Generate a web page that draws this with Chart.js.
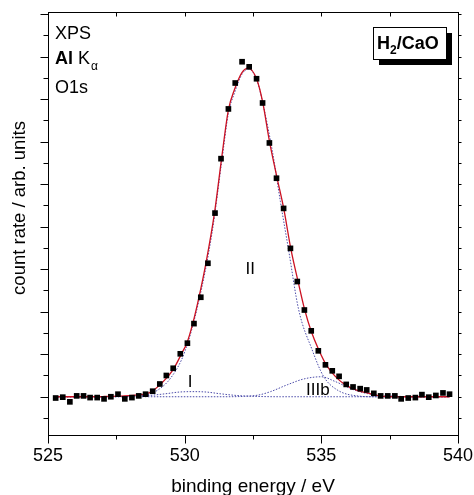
<!DOCTYPE html>
<html>
<head>
<meta charset="utf-8">
<script src="https://cdn.jsdelivr.net/npm/chart.js@4.4.1/dist/chart.umd.min.js"></script>
<style>
  html, body { margin: 0; padding: 0; background: #fff; }
</style>
</head>
<body>
<canvas id="xps" width="474" height="495"></canvas>
<script>
// measured spectrum (O1s, Al K-alpha)
const energy = [525.28, 525.54, 525.80, 526.05, 526.30, 526.54, 526.80, 527.05, 527.30, 527.56,
  527.81, 528.07, 528.32, 528.57, 528.83, 529.09, 529.33, 529.58, 529.84, 530.10,
  530.34, 530.59, 530.85, 531.11, 531.33, 531.60, 531.85, 532.10, 532.36, 532.63,
  532.85, 533.10, 533.36, 533.62, 533.87, 534.12, 534.38, 534.63, 534.89, 535.15,
  535.40, 535.65, 535.91, 536.16, 536.42, 536.66, 536.92, 537.17, 537.43, 537.69,
  537.92, 538.18, 538.44, 538.68, 538.93, 539.19, 539.45, 539.69];
const counts = [-0.03, -0.01, -0.12, 0.02, 0.02, -0.02, -0.02, -0.05, 0.00, 0.06,
  -0.05, -0.02, 0.02, 0.06, 0.13, 0.30, 0.50, 0.67, 1.01, 1.26,
  1.72, 2.34, 3.14, 4.32, 5.60, 6.77, 7.38, 7.88, 7.76, 7.48,
  6.91, 5.97, 5.14, 4.43, 3.49, 2.71, 2.04, 1.55, 1.08, 0.75,
  0.61, 0.48, 0.29, 0.23, 0.19, 0.16, 0.08, 0.02, 0.02, 0.02,
  -0.05, -0.03, -0.02, 0.05, -0.01, 0.03, 0.09, 0.06];

// total fit (red)
const fitEnergy = [525.25, 526.0, 527.0, 527.8, 528.3, 528.7, 529.16, 529.58, 529.9, 530.08,
  530.3, 530.53, 530.78, 531.09, 531.36, 531.6, 531.82, 532.09, 532.33, 532.64,
  532.86, 533.09, 533.38, 533.62, 533.89, 534.15, 534.39, 534.63, 534.9, 535.18,
  535.51, 535.88, 536.31, 536.68, 537.28, 538.0, 539.0, 539.7];
const fitTotal = [0, 0, 0.005, 0.02, 0.045, 0.09, 0.32, 0.64, 1.03, 1.26,
  1.73, 2.36, 3.15, 4.32, 5.65, 6.75, 7.22, 7.62, 7.73, 7.46,
  6.91, 6.05, 5.15, 4.44, 3.46, 2.71, 2.05, 1.54, 1.11, 0.75,
  0.48, 0.28, 0.15, 0.09, 0.01, 0, 0, 0];

// fit components (blue dotted)
const peakIEnergy = [525.25, 527.0, 528.0, 528.7, 529.3, 529.8, 530.3, 530.8, 531.3, 531.9, 532.5, 533.5, 539.7];
const peakI = [0, 0, 0.01, 0.03, 0.07, 0.11, 0.12, 0.11, 0.07, 0.03, 0.01, 0, 0];

const peakIIEnergy = [525.25, 527.0, 528.0, 528.5, 529.0, 529.5, 530.0, 530.5, 531.0, 531.36,
  531.6, 531.82, 532.09, 532.33, 532.64, 532.86, 533.2, 533.5, 533.8, 534.17,
  534.66, 535.08, 535.58, 536.3, 537.0, 538.0, 539.7];
const peakII = [0, 0, 0.01, 0.03, 0.15, 0.45, 1.05, 2.2, 3.85, 5.55,
  6.67, 7.14, 7.58, 7.71, 7.45, 6.9, 5.81, 4.6, 3.46, 2.05,
  1.11, 0.48, 0.16, 0.02, 0, 0, 0];

const peakIIIbEnergy = [525.25, 531.5, 532.2, 532.7, 533.14, 533.75, 534.37, 535.0, 535.5, 536.2, 536.8, 537.5, 538.5, 539.7];
const peakIIIb = [0, 0, 0.01, 0.04, 0.12, 0.28, 0.42, 0.47, 0.36, 0.16, 0.06, 0.02, 0, 0];

const xTickLabels = [525, 530, 535, 540];

const FONT = '"Liberation Sans", Arial, sans-serif';
const pts = (xs, ys) => xs.map((x, i) => ({ x: x, y: ys[i] }));

const component = (xs, ys) => ({
  data: pts(xs, ys),
  showLine: true,
  borderColor: '#4a4aa8',
  borderWidth: 1,
  borderDash: [1.5, 1.5],
  pointRadius: 0,
  cubicInterpolationMode: 'monotone',
  fill: false
});

// frame, mirrored tick marks and the text inside the plot
const decorations = {
  id: 'decorations',
  afterDraw(chart) {
    const { ctx, chartArea: a, scales: { x, y } } = chart;
    const L = Math.round(a.left) + 0.5, R = Math.round(a.right) + 0.5;
    const T = Math.round(a.top) + 0.5, B = Math.round(a.bottom) + 0.5;
    ctx.save();
    ctx.strokeStyle = '#000';
    ctx.lineWidth = 1;
    ctx.strokeRect(L, T, R - L, B - T);

    ctx.beginPath();
    for (let v = 525; v <= 540; v += 2.5) {
      const px = Math.round(x.getPixelForValue(v)) + 0.5;
      const major = v % 5 === 0;
      ctx.moveTo(px, B); ctx.lineTo(px, B + (major ? 8 : 4));
      ctx.moveTo(px, T); ctx.lineTo(px, T + 4);
    }
    for (let v = -0.5; v <= 9; v += 0.5) {
      const py = Math.round(y.getPixelForValue(v)) + 0.5;
      const major = Number.isInteger(v);
      ctx.moveTo(L, py); ctx.lineTo(L - (major ? 8 : 5), py);
      ctx.moveTo(R, py); ctx.lineTo(R + 3, py);
    }
    ctx.stroke();

    // y axis title
    ctx.fillStyle = '#000';
    ctx.save();
    ctx.translate(20, 208);
    ctx.rotate(-Math.PI / 2);
    ctx.font = '18.5px ' + FONT;
    ctx.textAlign = 'center';
    ctx.textBaseline = 'middle';
    ctx.fillText('count rate / arb. units', 0, 0);
    ctx.restore();

    // info text top left
    ctx.textAlign = 'left';
    ctx.textBaseline = 'alphabetic';
    ctx.font = '18px ' + FONT;
    ctx.fillText('XPS', 55, 39);
    ctx.font = 'bold 18px ' + FONT;
    ctx.fillText('Al', 55, 64);
    let w = ctx.measureText('Al').width;
    ctx.font = '18px ' + FONT;
    ctx.fillText(' K', 55 + w, 64);
    w += ctx.measureText(' K').width;
    ctx.font = '12px ' + FONT;
    ctx.fillText('\u03b1', 55 + w + 1, 70);
    ctx.font = '18px ' + FONT;
    ctx.fillText('O1s', 55, 93);

    // sample box with shadow
    const bx = 373, by = 27, bw = 73, bh = 32;
    ctx.fillStyle = '#000';
    ctx.fillRect(bx + 6, by + 6, bw, bh);
    ctx.fillStyle = '#fff';
    ctx.fillRect(bx, by, bw, bh);
    ctx.strokeRect(bx + 0.5, by + 0.5, bw, bh);
    ctx.fillStyle = '#000';
    ctx.font = 'bold 18px ' + FONT;
    let tx = 377;
    ctx.fillText('H', tx, 49);
    tx += ctx.measureText('H').width;
    ctx.font = 'bold 12px ' + FONT;
    ctx.fillText('2', tx, 54);
    tx += ctx.measureText('2').width;
    ctx.font = 'bold 18px ' + FONT;
    ctx.fillText('/CaO', tx, 49);

    // peak labels
    ctx.font = '17px ' + FONT;
    ctx.textAlign = 'center';
    ctx.fillText('I', x.getPixelForValue(530.2), y.getPixelForValue(0.23));
    ctx.fillText('II', x.getPixelForValue(532.4), y.getPixelForValue(2.89));
    ctx.fillText('IIIb', x.getPixelForValue(534.87), y.getPixelForValue(0.04));
    ctx.restore();
  }
};

new Chart(document.getElementById('xps'), {
  type: 'scatter',
  data: {
    datasets: [
      {
        data: pts(energy, counts),
        pointStyle: 'rect',
        pointRadius: 4,
        backgroundColor: '#000',
        borderColor: '#000',
        borderWidth: 0,
        showLine: false
      },
      {
        data: pts(fitEnergy, fitTotal),
        showLine: true,
        borderColor: '#cc1122',
        borderWidth: 1.3,
        pointRadius: 0,
        cubicInterpolationMode: 'monotone',
        fill: false
      },
      component(peakIIEnergy, peakII),
      component(peakIEnergy, peakI),
      component(peakIIIbEnergy, peakIIIb)
    ]
  },
  options: {
    responsive: false,
    animation: false,
    layout: { padding: { top: 12, right: 16, left: 0, bottom: 0 } },
    plugins: { legend: { display: false }, tooltip: { enabled: false } },
    scales: {
      x: {
        type: 'linear',
        min: 525,
        max: 540,
        ticks: {
          stepSize: 5,
          color: '#000',
          padding: 10,
          maxRotation: 0,
          font: { family: FONT, size: 18 },
          callback: v => xTickLabels.includes(v) ? String(v) : ''
        },
        grid: { display: false, drawTicks: false },
        border: { display: false },
        title: {
          display: true,
          text: 'binding energy / eV',
          color: '#000',
          font: { family: FONT, size: 19, lineHeight: 0.84 },
          padding: { top: 0, bottom: 0 }
        },
        afterFit(scale) {
          scale.height = 60;
          scale.paddingLeft = 0;
          scale.paddingRight = 0;
        }
      },
      y: {
        type: 'linear',
        min: -0.9,
        max: 9.05,
        ticks: { display: false },
        grid: { display: false, drawTicks: false },
        border: { display: false },
        afterFit(scale) {
          scale.width = 48;
          scale.paddingTop = 0;
          scale.paddingBottom = 0;
        }
      }
    }
  },
  plugins: [decorations]
});
</script>
</body>
</html>
